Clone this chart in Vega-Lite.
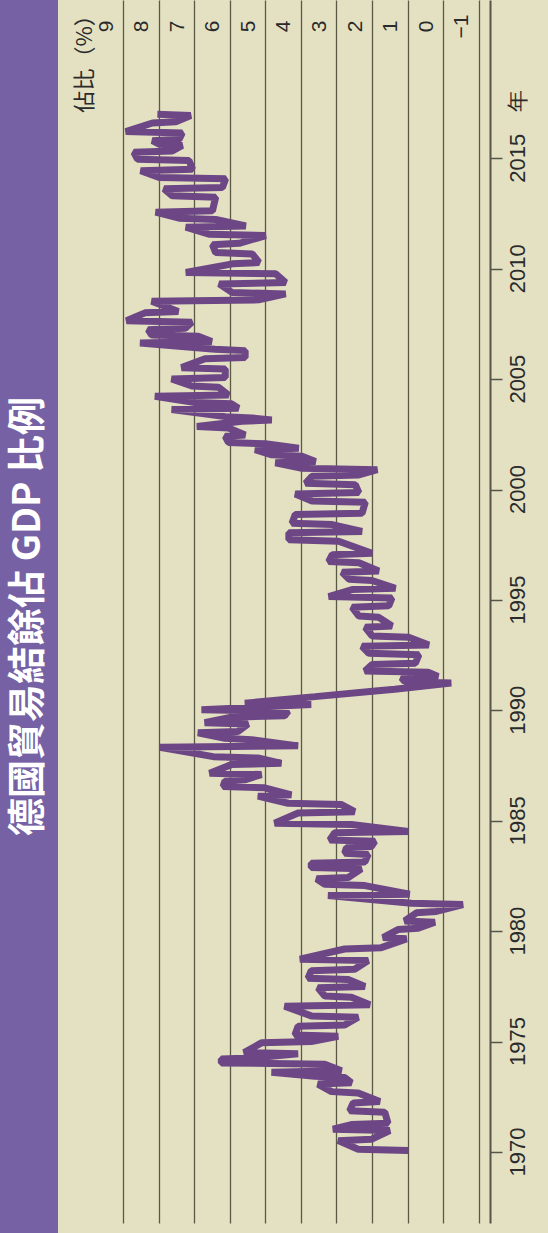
{
  "$schema": "https://vega.github.io/schema/vega-lite/v6.json",
  "background": "#E4E1C3",
  "padding": 0,
  "spacing": 2,
  "config": {"view": {"stroke": null}, "font": "Liberation Sans"},
  "hconcat": [
    {
      "width": 58,
      "height": 1233,
      "view": {"fill": "#7661A5", "stroke": null},
      "data": {"values": [{"title": "德國貿易結餘佔 GDP 比例"}]},
      "mark": {"type": "text", "angle": 270, "color": "white", "font": "Noto Sans CJK TC", "fontSize": 38, "fontWeight": "bold", "align": "center", "baseline": "middle"},
      "encoding": {"text": {"field": "title"}}
    },
    {
      "width": 430,
      "height": 1223,
      "data": {"values": [
        {"t":1970.06,"v":0.98},{"t":1970.12,"v":2.39},
        {"t":1970.51,"v":2.95},{"t":1970.57,"v":2.02},
        {"t":1970.97,"v":1.5},{"t":1971.03,"v":3.1},
        {"t":1971.24,"v":2.58},{"t":1971.30,"v":1.55},
        {"t":1971.80,"v":1.64},{"t":1971.86,"v":2.63},
        {"t":1972.22,"v":2.53},{"t":1972.28,"v":1.78},
        {"t":1972.67,"v":2.39},{"t":1972.73,"v":3.14},
        {"t":1973.07,"v":3.52},{"t":1973.13,"v":2.58},
        {"t":1973.37,"v":2.77},{"t":1973.43,"v":3.61},
        {"t":1973.61,"v":4.83},{"t":1973.67,"v":2.86},
        {"t":1973.97,"v":3.33},{"t":1974.03,"v":6.24},
        {"t":1974.21,"v":6.24},{"t":1974.27,"v":5.21},
        {"t":1974.44,"v":4.08},{"t":1974.50,"v":5.6},
        {"t":1974.94,"v":5.11},{"t":1975.00,"v":3.71},
        {"t":1975.24,"v":2.95},{"t":1975.30,"v":4.17},
        {"t":1975.69,"v":4.08},{"t":1975.75,"v":2.77},
        {"t":1976.10,"v":2.39},{"t":1976.16,"v":3.71},
        {"t":1976.60,"v":4.46},{"t":1976.66,"v":2.06},
        {"t":1977.00,"v":2.58},{"t":1977.06,"v":3.33},
        {"t":1977.43,"v":3.52},{"t":1977.49,"v":2.2},
        {"t":1977.81,"v":2.67},{"t":1977.87,"v":3.8},
        {"t":1978.21,"v":3.71},{"t":1978.27,"v":2.49},
        {"t":1978.67,"v":2.11},{"t":1978.73,"v":4.03},
        {"t":1979.19,"v":2.77},{"t":1979.25,"v":1.74},
        {"t":1979.65,"v":1.03},{"t":1979.71,"v":1.69},
        {"t":1980.07,"v":1.27},{"t":1980.13,"v":0.7},
        {"t":1980.40,"v":0.23},{"t":1980.46,"v":1.08},
        {"t":1980.83,"v":0.75},{"t":1980.89,"v":0.19},
        {"t":1981.20,"v":-0.56},{"t":1981.26,"v":0.89},
        {"t":1981.61,"v":3.24},{"t":1981.67,"v":0.94},
        {"t":1982.06,"v":2.2},{"t":1982.12,"v":3.33},
        {"t":1982.37,"v":3.56},{"t":1982.43,"v":2.67},
        {"t":1982.82,"v":2.3},{"t":1982.88,"v":3.71},
        {"t":1983.07,"v":3.71},{"t":1983.13,"v":2.2},
        {"t":1983.47,"v":2.11},{"t":1983.53,"v":2.77},
        {"t":1983.77,"v":2.72},{"t":1983.83,"v":2.02},
        {"t":1984.07,"v":1.92},{"t":1984.13,"v":3.19},
        {"t":1984.45,"v":3.05},{"t":1984.51,"v":0.98},
        {"t":1984.83,"v":2.58},{"t":1984.89,"v":4.74},
        {"t":1985.35,"v":4.08},{"t":1985.41,"v":2.49},
        {"t":1985.73,"v":2.86},{"t":1985.79,"v":4.36},
        {"t":1986.11,"v":5.21},{"t":1986.17,"v":4.27},
        {"t":1986.49,"v":5.02},{"t":1986.55,"v":6.19},
        {"t":1986.79,"v":6.14},{"t":1986.85,"v":5.58},
        {"t":1987.09,"v":5.11},{"t":1987.15,"v":6.57},
        {"t":1987.54,"v":5.96},{"t":1987.60,"v":4.55},
        {"t":1987.84,"v":5.21},{"t":1987.90,"v":6.47},
        {"t":1988.33,"v":7.97},{"t":1988.39,"v":4.08},
        {"t":1988.67,"v":5.39},{"t":1988.73,"v":6.14},
        {"t":1988.98,"v":6.9},{"t":1989.04,"v":5.77},
        {"t":1989.38,"v":5.49},{"t":1989.44,"v":6.71},
        {"t":1989.69,"v":5.96},{"t":1989.75,"v":4.46},
        {"t":1989.96,"v":4.36},{"t":1990.02,"v":6.8},
        {"t":1990.26,"v":3.71},{"t":1990.32,"v":5.58},
        {"t":1990.62,"v":3.6},
        {"t":1990.89,"v":1.83},{"t":1990.95,"v":1.36},
        {"t":1991.24,"v":-0.23},{"t":1991.30,"v":1.08},
        {"t":1991.47,"v":1.17},{"t":1991.53,"v":0.14},
        {"t":1991.72,"v":0.42},{"t":1991.78,"v":2.2},
        {"t":1992.07,"v":2.0},{"t":1992.13,"v":0.78},
        {"t":1992.52,"v":0.68},{"t":1992.58,"v":2.09},
        {"t":1992.90,"v":2.28},{"t":1992.96,"v":0.4},
        {"t":1993.31,"v":0.97},{"t":1993.37,"v":2.0},
        {"t":1993.76,"v":2.19},{"t":1993.82,"v":1.44},
        {"t":1994.21,"v":1.81},{"t":1994.27,"v":2.37},
        {"t":1994.67,"v":2.56},{"t":1994.73,"v":1.53},
        {"t":1995.09,"v":1.44},{"t":1995.15,"v":3.22},
        {"t":1995.47,"v":2.56},{"t":1995.53,"v":1.34},
        {"t":1995.88,"v":2.0},{"t":1995.94,"v":2.65},
        {"t":1996.25,"v":2.84},{"t":1996.31,"v":1.81},
        {"t":1996.68,"v":2.37},{"t":1996.74,"v":3.22},
        {"t":1997.05,"v":3.12},{"t":1997.11,"v":2.0},
        {"t":1997.66,"v":2.94},{"t":1997.72,"v":4.34},
        {"t":1998.04,"v":4.34},{"t":1998.10,"v":2.28},
        {"t":1998.41,"v":3.12},{"t":1998.47,"v":4.25},
        {"t":1998.87,"v":4.16},{"t":1998.93,"v":2.28},
        {"t":1999.42,"v":2.19},{"t":1999.48,"v":3.69},
        {"t":1999.80,"v":4.16},{"t":1999.86,"v":2.37},
        {"t":2000.22,"v":2.47},{"t":2000.28,"v":3.87},
        {"t":2000.60,"v":3.69},{"t":2000.66,"v":2.37},
        {"t":2000.90,"v":1.85},{"t":2000.96,"v":3.97},
        {"t":2001.21,"v":4.72},{"t":2001.27,"v":3.59},
        {"t":2001.51,"v":3.97},{"t":2001.57,"v":4.82},
        {"t":2001.81,"v":5.29},{"t":2001.87,"v":4.06},
        {"t":2002.07,"v":5.0},{"t":2002.13,"v":6.04},
        {"t":2002.41,"v":6.13},{"t":2002.47,"v":5.57},
        {"t":2002.79,"v":6.04},{"t":2002.85,"v":6.93},
        {"t":2003.09,"v":5.66},{"t":2003.15,"v":4.82},
        {"t":2003.24,"v":5.38},{"t":2003.30,"v":6.13},
        {"t":2003.62,"v":7.64},{"t":2003.68,"v":5.76},
        {"t":2003.88,"v":5.95},{"t":2003.94,"v":6.98},
        {"t":2004.22,"v":8.11},{"t":2004.28,"v":6.04},
        {"t":2004.63,"v":6.32},{"t":2004.69,"v":7.07},
        {"t":2005.01,"v":7.64},{"t":2005.07,"v":6.13},
        {"t":2005.46,"v":6.13},{"t":2005.52,"v":7.36},
        {"t":2005.92,"v":6.7},{"t":2005.98,"v":5.57},
        {"t":2006.29,"v":5.57},{"t":2006.35,"v":6.42},
        {"t":2006.64,"v":8.53},{"t":2006.70,"v":6.51},
        {"t":2006.94,"v":6.89},{"t":2007.00,"v":8.2},
        {"t":2007.24,"v":8.3},{"t":2007.30,"v":7.26},
        {"t":2007.58,"v":7.07},{"t":2007.64,"v":8.91},
        {"t":2008.00,"v":8.39},{"t":2008.06,"v":7.45},
        {"t":2008.53,"v":8.2},{"t":2008.59,"v":5.19},
        {"t":2008.86,"v":4.43},{"t":2008.92,"v":5.93},
        {"t":2009.31,"v":6.3},{"t":2009.37,"v":4.43},
        {"t":2009.77,"v":4.71},{"t":2009.83,"v":7.24},
        {"t":2010.22,"v":5.93},{"t":2010.28,"v":5.18},
        {"t":2010.67,"v":5.37},{"t":2010.73,"v":6.4},
        {"t":2011.09,"v":6.49},{"t":2011.15,"v":5.74},
        {"t":2011.50,"v":4.99},{"t":2011.56,"v":6.59},
        {"t":2011.88,"v":7.24},{"t":2011.94,"v":5.55},
        {"t":2012.23,"v":6.4},{"t":2012.29,"v":7.43},
        {"t":2012.56,"v":8.09},{"t":2012.62,"v":6.49},
        {"t":2013.24,"v":6.4},{"t":2013.30,"v":7.62},
        {"t":2013.62,"v":7.85},{"t":2013.68,"v":6.21},
        {"t":2014.07,"v":6.12},{"t":2014.13,"v":7.99},
        {"t":2014.44,"v":8.51},{"t":2014.50,"v":7.05},
        {"t":2014.90,"v":7.15},{"t":2014.96,"v":8.6},
        {"t":2015.27,"v":8.7},{"t":2015.33,"v":7.62},
        {"t":2015.58,"v":7.34},{"t":2015.64,"v":7.99},
        {"t":2015.80,"v":8.18},{"t":2015.86,"v":7.43},
        {"t":2016.15,"v":7.34},{"t":2016.21,"v":8.93},
        {"t":2016.60,"v":8.18},{"t":2016.66,"v":7.52},
        {"t":2016.94,"v":7.1},{"t":2016.99,"v":8.04}
      ]},
      "mark": {"type": "line", "color": "#6D4785", "strokeWidth": 7, "strokeJoin": "bevel", "strokeCap": "butt"},
      "encoding": {
        "x": {
          "field": "v", "type": "quantitative",
          "scale": {"domain": [-1.32, 10.78], "reverse": true, "nice": false, "zero": false},
          "axis": {
            "orient": "top", "values": [-1, 0, 1, 2, 3, 4, 5, 6, 7, 8, 9],
            "grid": true, "gridColor": "#5a5946", "gridWidth": 1.3, "gridOpacity": 1,
            "domain": false, "ticks": false, "tickSize": 0,
            "labelFontSize": 21, "labelColor": "#2b2b2b", "labelAngle": 270,
            "labelAlign": "center", "labelBaseline": "middle", "labelOffset": -17, "labelPadding": 0,
            "labelFlush": false, "labelOverlap": false,
            "offset": -26,
            "title": "佔比（%）", "titleFont": "Noto Sans CJK TC", "titleFontSize": 22, "titleFontWeight": "normal",
            "titleColor": "#2b2b2b", "titleAngle": 270, "titleAlign": "center", "titleBaseline": "middle",
            "titleX": 24, "titleY": 32
          }
        },
        "y": {
          "field": "t", "type": "quantitative",
          "scale": {"domain": [1966.78, 2022.17], "nice": false, "zero": false},
          "axis": {
            "orient": "right", "values": [1970, 1975, 1980, 1985, 1990, 1995, 2000, 2005, 2010, 2015],
            "format": "d",
            "labelExpr": "datum.value == 2015 ? '2015\u2003年' : datum.label",
            "grid": false, "domain": true, "domainColor": "#55554a", "domainWidth": 2,
            "ticks": true, "tickSize": 12, "tickColor": "#55554a", "tickWidth": 1.5,
            "labelAngle": 270, "labelAlign": "left", "labelBaseline": "middle",
            "labelOffset": 24, "labelPadding": 15, "labelFontSize": 22, "labelColor": "#2b2b2b",
            "labelFlush": false, "labelOverlap": false,
            "title": null, "minExtent": 58, "maxExtent": 58
          }
        },
        "order": {"field": "t", "type": "quantitative"}
      }
    }
  ]
}
